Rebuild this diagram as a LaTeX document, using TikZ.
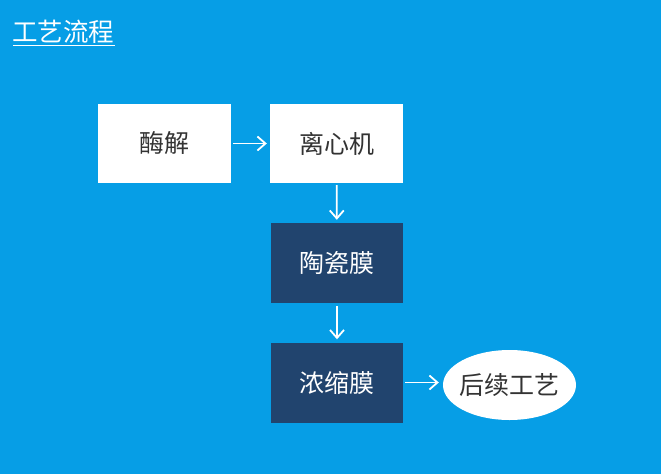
\documentclass[tikz,border=0pt]{standalone}
\usepackage{fontspec}
\setmainfont{Noto Sans CJK SC}
\usetikzlibrary{arrows.meta,shapes.geometric}
\definecolor{bgblue}{RGB}{6,158,230}
\definecolor{darkbox}{RGB}{33,68,110}
\definecolor{txtgray}{RGB}{51,51,51}
\tikzset{
  whitebox/.style={draw=none,fill=white,minimum width=133pt,minimum height=79pt,inner sep=0pt,text=txtgray,font=\fontsize{25}{30}\selectfont},
  darkbox/.style={draw=none,fill=darkbox,minimum width=132pt,minimum height=80pt,inner sep=0pt,text=white,font=\fontsize{25}{30}\selectfont},
  endell/.style={ellipse,draw=none,fill=white,minimum width=133pt,minimum height=70pt,inner xsep=-4pt,inner ysep=0pt,text=txtgray,font=\fontsize{25}{30}\selectfont},
  flow/.style={draw=white,line width=1.8pt,-{Straight Barb[length=8pt,width=14pt,line width=1.8pt]}},
}
\begin{document}
\begin{tikzpicture}[x=1pt,y=-1pt]
\fill[bgblue] (0,0) rectangle (661,474);
\useasboundingbox (0,0) rectangle (661,474);
\node[anchor=base west,inner sep=0pt,text=white,font=\fontsize{25.5}{30}\selectfont] (title) at (12,41) {工艺流程};
\coordinate (ulA) at (13,45.5);
\coordinate (ulB) at (115,45.5);
\draw[white,line width=1.3pt] (ulA) -- (ulB);
\node[whitebox] (enz) at (164.5,143.5) {酶解};
\node[whitebox] (cent) at (336.5,143.5) {离心机};
\node[darkbox] (cer) at (337,263) {陶瓷膜};
\node[darkbox] (conc) at (337,382.5) {浓缩膜};
\node[endell] (post) at (509.5,385) {后续工艺};
\draw[flow,shorten <=2pt,shorten >=3pt] (enz) -- (cent);
\draw[flow,shorten <=2pt,shorten >=3pt] (cent) -- (cer);
\draw[flow,shorten <=3pt,shorten >=3pt] (cer) -- (conc);
\draw[flow,shorten <=2pt,shorten >=4pt] (conc.east) -- (post.west |- conc.east);
\end{tikzpicture}
\end{document}
